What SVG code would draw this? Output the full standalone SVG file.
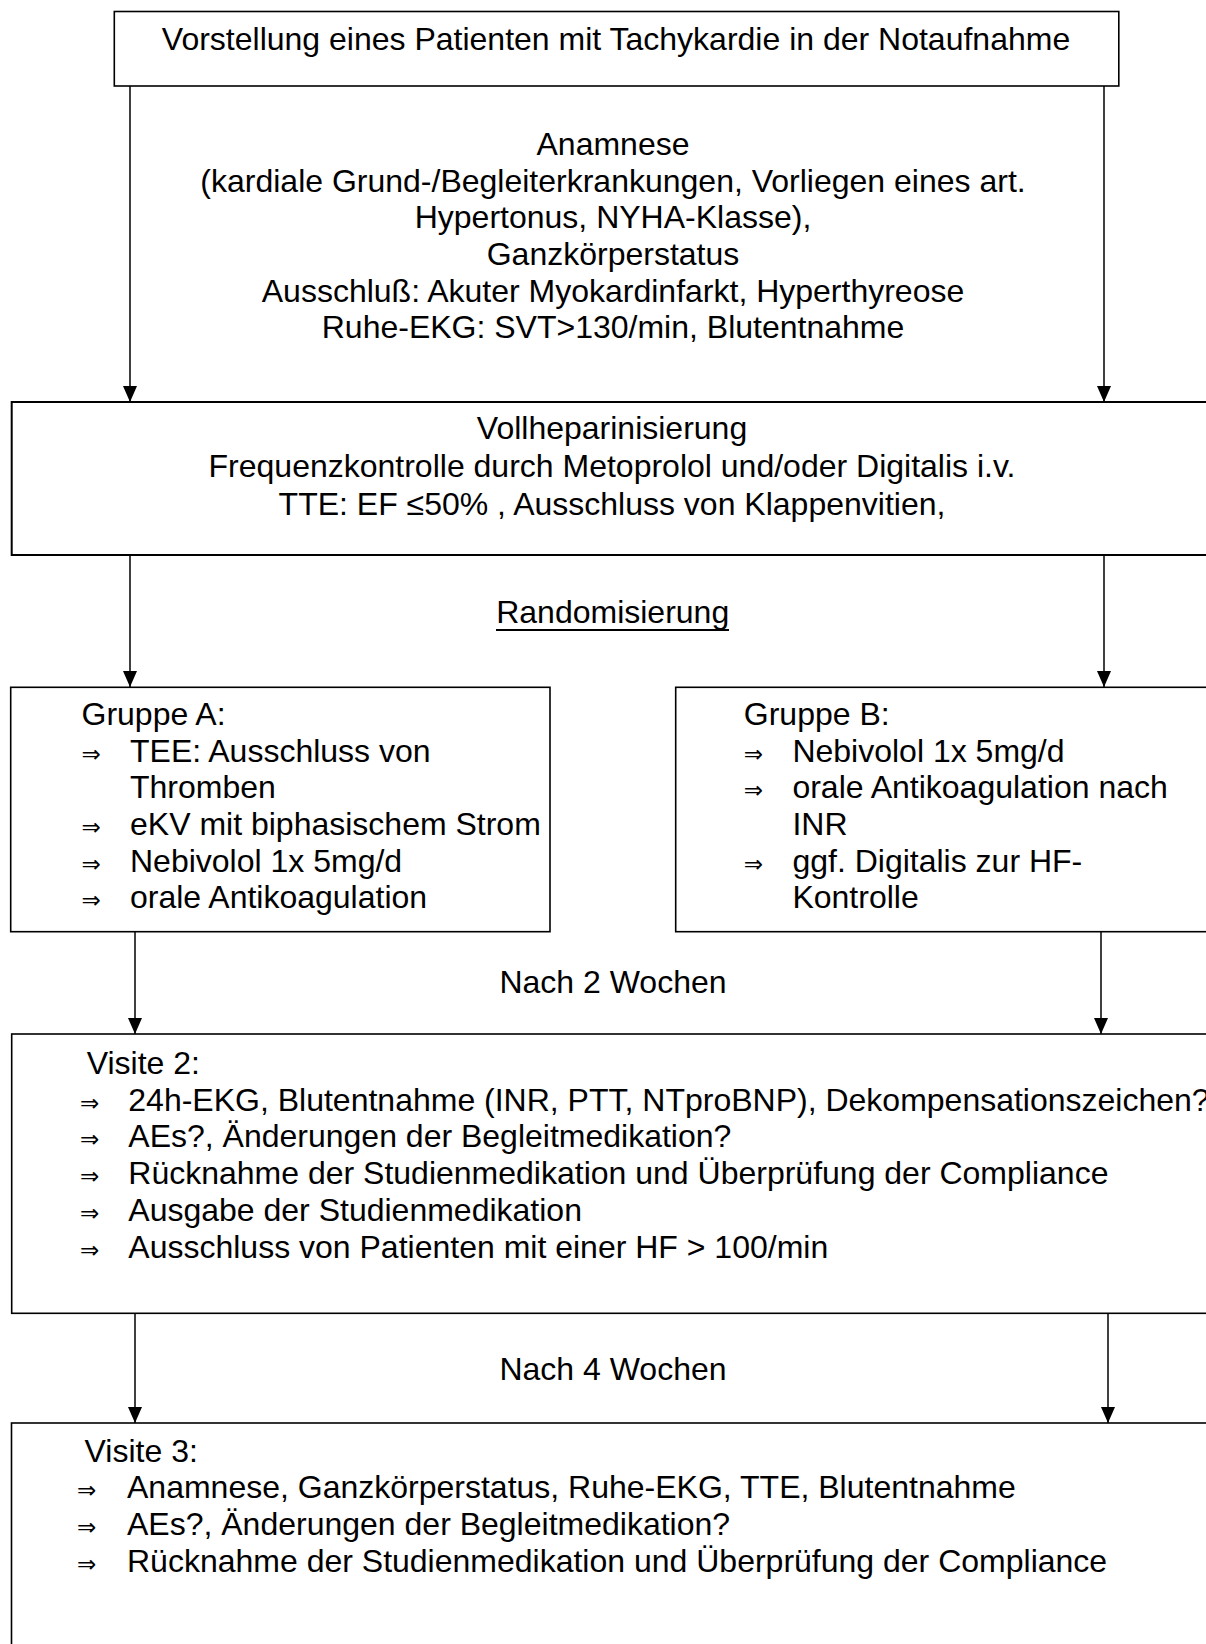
<svg xmlns="http://www.w3.org/2000/svg" width="1206" height="1644" viewBox="0 0 1206 1644">
<style>
  .box { fill: #fff; stroke: #000; stroke-width: 1.6; }
  .t { font-family: "Liberation Sans", Arial, sans-serif; font-size: 32px; fill: #000; }
  .c { text-anchor: middle; }
  .b { font-family: "DejaVu Sans", sans-serif; font-size: 23px; fill: #000; }
  .conn { stroke: #000; stroke-width: 1.5; fill: none; marker-end: url(#arr); }
</style>
<defs>
  <marker id="arr" markerUnits="userSpaceOnUse" markerWidth="16" markerHeight="16" viewBox="0 0 16 14" refX="16" refY="7" orient="auto">
    <path d="M0,0 L16,7 L0,14 Z" fill="#000"/>
  </marker>
</defs>
<rect width="1206" height="1644" fill="#fff"/>

<g id="connectors">
  <line class="conn" x1="130" y1="86" x2="130" y2="402"/>
  <line class="conn" x1="1104" y1="86" x2="1104" y2="402"/>
  <line class="conn" x1="130" y1="555" x2="130" y2="687"/>
  <line class="conn" x1="1104" y1="555" x2="1104" y2="687"/>
  <line class="conn" x1="135" y1="932" x2="135" y2="1034"/>
  <line class="conn" x1="1101" y1="932" x2="1101" y2="1034"/>
  <line class="conn" x1="135" y1="1313" x2="135" y2="1423"/>
  <line class="conn" x1="1108" y1="1313" x2="1108" y2="1423"/>
</g>

<g id="anamnese">
  <text class="t c" x="613" y="155">Anamnese</text>
  <text class="t c" x="613" y="191.7">(kardiale Grund-/Begleiterkrankungen, Vorliegen eines art.</text>
  <text class="t c" x="613" y="228.4">Hypertonus, NYHA-Klasse),</text>
  <text class="t c" x="613" y="265">Ganzkörperstatus</text>
  <text class="t c" x="613" y="301.7">Ausschluß: Akuter Myokardinfarkt, Hyperthyreose</text>
  <text class="t c" x="613" y="338.4">Ruhe-EKG: SVT&gt;130/min, Blutentnahme</text>
</g>

<g id="randomisierung">
  <text class="t c" x="612.7" y="623">Randomisierung</text>
  <line x1="496" y1="630" x2="729" y2="630" stroke="#000" stroke-width="2"/>
</g>

<g id="nach2">
  <text class="t c" x="613" y="993">Nach 2 Wochen</text>
</g>

<g id="nach4">
  <text class="t c" x="613" y="1380">Nach 4 Wochen</text>
</g>

<g id="start">
  <rect class="box" x="114.3" y="11.5" width="1004.5" height="74.5"/>
  <text class="t c" x="616" y="50">Vorstellung eines Patienten mit Tachykardie in der Notaufnahme</text>
</g>

<g id="vollheparinisierung">
  <rect class="box" x="11.7" y="402" width="1210" height="153" style="stroke-width:2"/>
  <text class="t c" x="612" y="439">Vollheparinisierung</text>
  <text class="t c" x="612" y="477">Frequenzkontrolle durch Metoprolol und/oder Digitalis i.v.</text>
  <text class="t c" x="612" y="515">TTE: EF ≤50% , Ausschluss von Klappenvitien,</text>
</g>

<g id="gruppeA">
  <rect class="box" x="10.7" y="687.3" width="539.3" height="244.4"/>
  <text class="t" x="81.5" y="725">Gruppe A:</text>
  <text class="b" x="81.5" y="761.7">⇒</text>
  <text class="t" x="130" y="761.7">TEE: Ausschluss von</text>
  <text class="t" x="130" y="798.4">Thromben</text>
  <text class="b" x="81.5" y="835">⇒</text>
  <text class="t" x="130" y="835">eKV mit biphasischem Strom</text>
  <text class="b" x="81.5" y="871.7">⇒</text>
  <text class="t" x="130" y="871.7">Nebivolol 1x 5mg/d</text>
  <text class="b" x="81.5" y="908.4">⇒</text>
  <text class="t" x="130" y="908.4">orale Antikoagulation</text>
</g>

<g id="gruppeB">
  <rect class="box" x="675.7" y="687.3" width="545" height="244.4"/>
  <text class="t" x="743.8" y="725">Gruppe B:</text>
  <text class="b" x="743.8" y="761.7">⇒</text>
  <text class="t" x="792.4" y="761.7">Nebivolol 1x 5mg/d</text>
  <text class="b" x="743.8" y="798.4">⇒</text>
  <text class="t" x="792.4" y="798.4">orale Antikoagulation nach</text>
  <text class="t" x="792.4" y="835">INR</text>
  <text class="b" x="743.8" y="871.7">⇒</text>
  <text class="t" x="792.4" y="871.7">ggf. Digitalis zur HF-</text>
  <text class="t" x="792.4" y="908.4">Kontrolle</text>
</g>

<g id="visite2">
  <rect class="box" x="11.7" y="1034" width="1210" height="279.3"/>
  <text class="t" x="86.7" y="1074">Visite 2:</text>
  <text class="b" x="80" y="1110.7">⇒</text>
  <text class="t" x="128.3" y="1110.7">24h-EKG, Blutentnahme (INR, PTT, NTproBNP), Dekompensationszeichen?</text>
  <text class="b" x="80" y="1147.4">⇒</text>
  <text class="t" x="128.3" y="1147.4">AEs?, Änderungen der Begleitmedikation?</text>
  <text class="b" x="80" y="1184">⇒</text>
  <text class="t" x="128.3" y="1184">Rücknahme der Studienmedikation und Überprüfung der Compliance</text>
  <text class="b" x="80" y="1220.8">⇒</text>
  <text class="t" x="128.3" y="1220.8">Ausgabe der Studienmedikation</text>
  <text class="b" x="80" y="1257.5">⇒</text>
  <text class="t" x="128.3" y="1257.5">Ausschluss von Patienten mit einer HF &gt; 100/min</text>
</g>

<g id="visite3">
  <rect class="box" x="11.5" y="1423" width="1210" height="240"/>
  <text class="t" x="84.6" y="1461.7">Visite 3:</text>
  <text class="b" x="77" y="1498.3">⇒</text>
  <text class="t" x="127" y="1498.3">Anamnese, Ganzkörperstatus, Ruhe-EKG, TTE, Blutentnahme</text>
  <text class="b" x="77" y="1535">⇒</text>
  <text class="t" x="127" y="1535">AEs?, Änderungen der Begleitmedikation?</text>
  <text class="b" x="77" y="1571.7">⇒</text>
  <text class="t" x="127" y="1571.7">Rücknahme der Studienmedikation und Überprüfung der Compliance</text>
</g>
</svg>
